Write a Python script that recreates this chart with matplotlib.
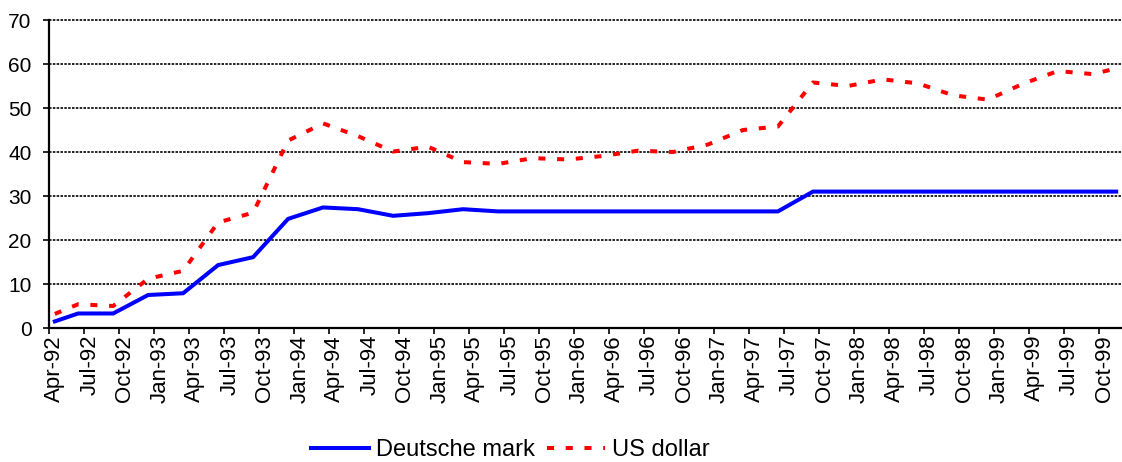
import matplotlib
matplotlib.use("Agg")
import matplotlib.pyplot as plt
from matplotlib.ticker import FixedLocator, NullFormatter, FixedFormatter

plt.rcParams['font.family'] = ['Liberation Sans', 'DejaVu Sans']

MONTHS = ['Jan', 'Feb', 'Mar', 'Apr', 'May', 'Jun', 'Jul', 'Aug', 'Sep', 'Oct', 'Nov', 'Dec']

# Observation dates (quarterly, plus first and last months)
dates = ['Apr-92', 'Jun-92', 'Sep-92', 'Dec-92', 'Mar-93', 'Jun-93', 'Sep-93', 'Dec-93',
         'Mar-94', 'Jun-94', 'Sep-94', 'Dec-94', 'Mar-95', 'Jun-95', 'Sep-95', 'Dec-95',
         'Mar-96', 'Jun-96', 'Sep-96', 'Dec-96', 'Mar-97', 'Jun-97', 'Sep-97', 'Dec-97',
         'Mar-98', 'Jun-98', 'Sep-98', 'Dec-98', 'Mar-99', 'Jun-99', 'Sep-99', 'Nov-99']

deutsche_mark = [1.5, 3.3, 3.3, 7.5, 7.9, 14.3, 16.1, 24.8,
                 27.4, 27.0, 25.5, 26.1, 27.0, 26.5, 26.5, 26.5,
                 26.5, 26.5, 26.5, 26.5, 26.5, 26.5, 31.0, 31.0,
                 31.0, 31.0, 31.0, 31.0, 31.0, 31.0, 31.0, 31.0]

us_dollar = [3.2, 5.4, 5.0, 11.2, 13.0, 24.0, 26.2, 42.6,
             46.5, 43.6, 40.1, 41.2, 37.7, 37.3, 38.6, 38.3,
             39.1, 40.3, 40.0, 41.7, 45.0, 45.8, 55.8, 55.0,
             56.5, 55.6, 52.9, 51.9, 55.5, 58.4, 57.7, 59.0]

tick_labels = ['Apr-92', 'Jul-92', 'Oct-92', 'Jan-93', 'Apr-93', 'Jul-93', 'Oct-93',
               'Jan-94', 'Apr-94', 'Jul-94', 'Oct-94', 'Jan-95', 'Apr-95', 'Jul-95',
               'Oct-95', 'Jan-96', 'Apr-96', 'Jul-96', 'Oct-96', 'Jan-97', 'Apr-97',
               'Jul-97', 'Oct-97', 'Jan-98', 'Apr-98', 'Jul-98', 'Oct-98', 'Jan-99',
               'Apr-99', 'Jul-99', 'Oct-99']

START = 'Apr-92'
END = 'Nov-99'


def month_index(s):
    m, y = s.split('-')
    return (1900 + int(y)) * 12 + MONTHS.index(m)


base = month_index(START)
n_months = month_index(END) - base + 1

x_data = [month_index(d) - base + 0.5 for d in dates]
tick_pos = [month_index(t) - base for t in tick_labels]
label_pos = [p + 0.5 for p in tick_pos]

fig = plt.figure(figsize=(11.22, 4.62), dpi=100)
ax = fig.add_axes([49 / 1122, 1 - 328 / 462, 1 - 49 / 1122, (328 - 20) / 462])

for yv in range(10, 80, 10):
    ax.axhline(yv, color='black', lw=1.2, ls=(0, (1.5, 0.8)), zorder=1, clip_on=False)

ax.plot(x_data, deutsche_mark, color='#0000FF', lw=2.9, solid_joinstyle='miter',
        label='Deutsche mark', zorder=3)
ax.plot(x_data, us_dollar, color='#FF0000', lw=2.9, ls=(0, (1.75, 2.9)),
        label='US dollar', zorder=3)

ax.set_xlim(0, n_months)
ax.set_ylim(0, 70)
ax.set_yticks(range(0, 80, 10))

ax.xaxis.set_major_locator(FixedLocator(tick_pos))
ax.xaxis.set_major_formatter(NullFormatter())
ax.xaxis.set_minor_locator(FixedLocator(label_pos))
ax.xaxis.set_minor_formatter(FixedFormatter(tick_labels))
ax.tick_params(axis='x', which='major', direction='out', length=4.5, width=1.2, color='black')
ax.tick_params(axis='x', which='minor', length=0, pad=5, labelsize=16, labelrotation=90)
ax.tick_params(axis='y', direction='out', length=4.5, width=1.2, pad=8, labelsize=15)
for lab in ax.xaxis.get_minorticklabels():
    lab.set_verticalalignment('top')
    lab.set_horizontalalignment('center')

for side in ('top', 'right'):
    ax.spines[side].set_visible(False)
for side in ('left', 'bottom'):
    ax.spines[side].set_linewidth(1.6)
    ax.spines[side].set_color('black')

fig.legend(loc='center', bbox_to_anchor=(0.455, 0.026), ncol=2, frameon=False,
           fontsize=17, handlelength=2.45, handletextpad=0.3, columnspacing=0.5,
           borderaxespad=0)

fig.savefig('out.png', dpi=100)
